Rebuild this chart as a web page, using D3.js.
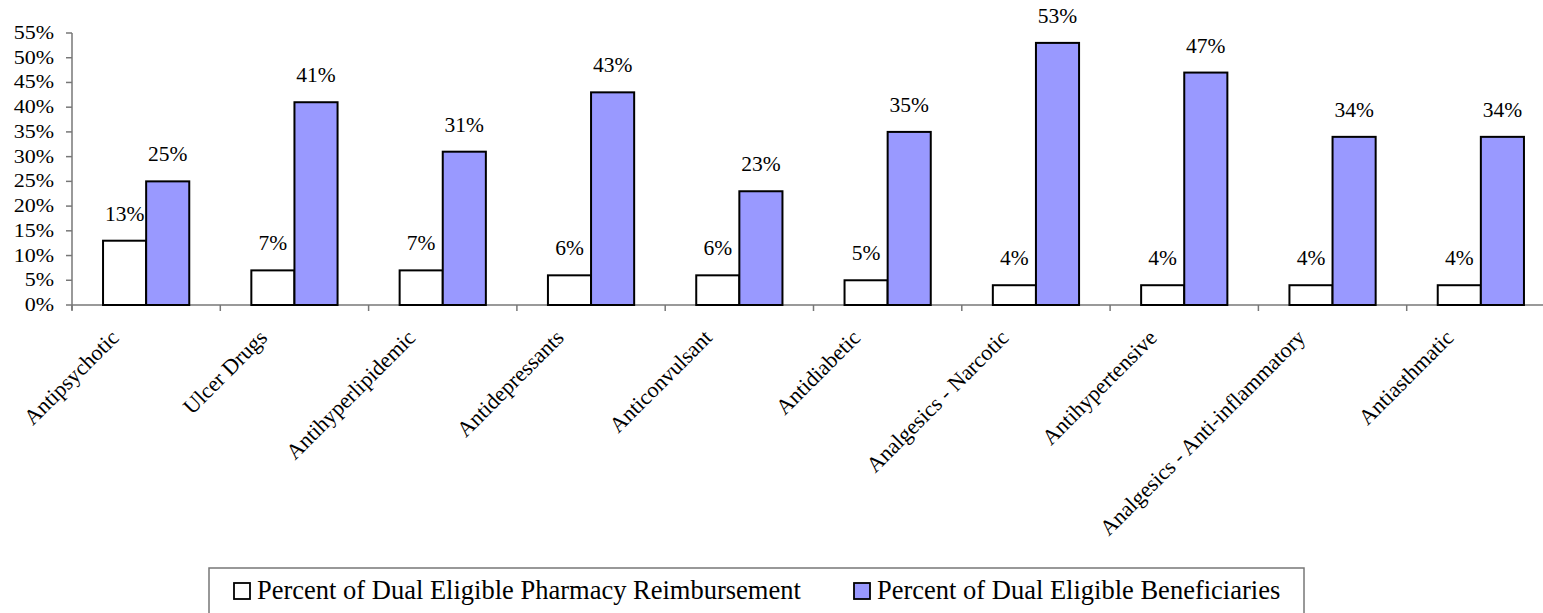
<!DOCTYPE html>
<html>
<head>
<meta charset="utf-8">
<script src="https://cdn.jsdelivr.net/npm/d3@7"></script>
<style>
  body { margin: 0; background: #fff; }
  text { font-family: "Liberation Serif", "Times New Roman", serif; fill: #000; }
</style>
</head>
<body>
<div id="container"></div>
<script>
/* CONSTANTS AND GLOBALS */
const width = 1543, height = 613;
const margin = { top: 33, left: 72, bottom: 308 };

// DATA
const categories = ["Antipsychotic", "Ulcer Drugs", "Antihyperlipidemic", "Antidepressants",
  "Anticonvulsant", "Antidiabetic", "Analgesics - Narcotic", "Antihypertensive",
  "Analgesics - Anti-inflammatory", "Antiasthmatic"];
const reimbursement = [13, 7, 7, 6, 6, 5, 4, 4, 4, 4];
const beneficiaries = [25, 41, 31, 43, 23, 35, 53, 47, 34, 34];
const seriesNames = ["Percent of Dual Eligible Pharmacy Reimbursement", "Percent of Dual Eligible Beneficiaries"];
const seriesColors = ["#ffffff", "#9999ff"];
const yTicks = [0, 5, 10, 15, 20, 25, 30, 35, 40, 45, 50, 55];

const rows = categories.map((c, i) => ({ cat: c, vals: [reimbursement[i], beneficiaries[i]] }));

const svg = d3.select("#container")
  .append("svg")
  .attr("width", width)
  .attr("height", height);

// SCALES
const y = d3.scaleLinear().domain([0, 55]).range([305, margin.top]);
const x0 = d3.scaleBand().domain(categories).range([margin.left, margin.left + 148.3 * 10]).padding(0);
const x1 = d3.scaleBand().domain([0, 1]).range([0, x0.bandwidth()]).paddingInner(0).paddingOuter(0.72);

// Y AXIS
svg.append("line")
  .attr("x1", margin.left).attr("x2", margin.left)
  .attr("y1", y(55)).attr("y2", 310)
  .attr("stroke", "#777").attr("stroke-width", 1.5);

svg.selectAll("line.ytick")
  .data(yTicks)
  .enter().append("line")
  .attr("class", "ytick")
  .attr("x1", margin.left - 6).attr("x2", margin.left)
  .attr("y1", d => y(d)).attr("y2", d => y(d))
  .attr("stroke", "#777").attr("stroke-width", 1.5);

// tick labels look squashed vertically in the original
svg.selectAll("text.ylab")
  .data(yTicks)
  .enter().append("text")
  .attr("class", "ylab")
  .attr("text-anchor", "end")
  .attr("font-size", 22)
  .attr("transform", d => `translate(54,${y(d) + 6}) scale(1,0.82)`)
  .text(d => d + "%");

// X AXIS
svg.append("line")
  .attr("x1", margin.left).attr("x2", width)
  .attr("y1", y(0)).attr("y2", y(0))
  .attr("stroke", "#777").attr("stroke-width", 1.5);

svg.selectAll("line.xtick")
  .data(d3.range(11))
  .enter().append("line")
  .attr("class", "xtick")
  .attr("x1", i => margin.left + x0.step() * i)
  .attr("x2", i => margin.left + x0.step() * i)
  .attr("y1", y(0)).attr("y2", y(0) + 6)
  .attr("stroke", "#777").attr("stroke-width", 1.5);

svg.selectAll("text.xlab")
  .data(categories)
  .enter().append("text")
  .attr("class", "xlab")
  .attr("text-anchor", "end")
  .attr("font-size", 22)
  .attr("transform", d => `translate(${x0(d) + x0.bandwidth() / 2 - 26},${y(0) + 34}) rotate(-45)`)
  .text(d => d);

// BARS
const groups = svg.selectAll("g.cat")
  .data(rows)
  .enter().append("g")
  .attr("class", "cat")
  .attr("transform", d => `translate(${x0(d.cat)},0)`);

groups.selectAll("rect")
  .data(d => d.vals.map((v, k) => ({ k, v })))
  .enter().append("rect")
  .attr("x", d => x1(d.k))
  .attr("width", x1.bandwidth())
  .attr("y", d => y(d.v))
  .attr("height", d => y(0) - y(d.v))
  .attr("fill", d => seriesColors[d.k])
  .attr("stroke", "#000")
  .attr("stroke-width", 2);

groups.selectAll("text")
  .data(d => d.vals.map((v, k) => ({ k, v })))
  .enter().append("text")
  .attr("x", d => x1(d.k) + x1.bandwidth() / 2)
  .attr("y", d => y(d.v) - 20)
  .attr("text-anchor", "middle")
  .attr("font-size", 21.5)
  .text(d => d.v + "%");

// LEGEND
const legend = svg.append("g");
legend.append("rect")
  .attr("x", 209).attr("y", 568)
  .attr("width", 1095).attr("height", 60)
  .attr("fill", "#fff").attr("stroke", "#777").attr("stroke-width", 1.5);

const legendX = [234, 854];
seriesNames.forEach((name, k) => {
  legend.append("rect")
    .attr("x", legendX[k]).attr("y", 583)
    .attr("width", 16).attr("height", 16)
    .attr("fill", seriesColors[k]).attr("stroke", "#000").attr("stroke-width", 1.8);
  legend.append("text")
    .attr("x", legendX[k] + 23).attr("y", 599)
    .attr("font-size", 26.5)
    .text(name);
});
</script>
</body>
</html>
